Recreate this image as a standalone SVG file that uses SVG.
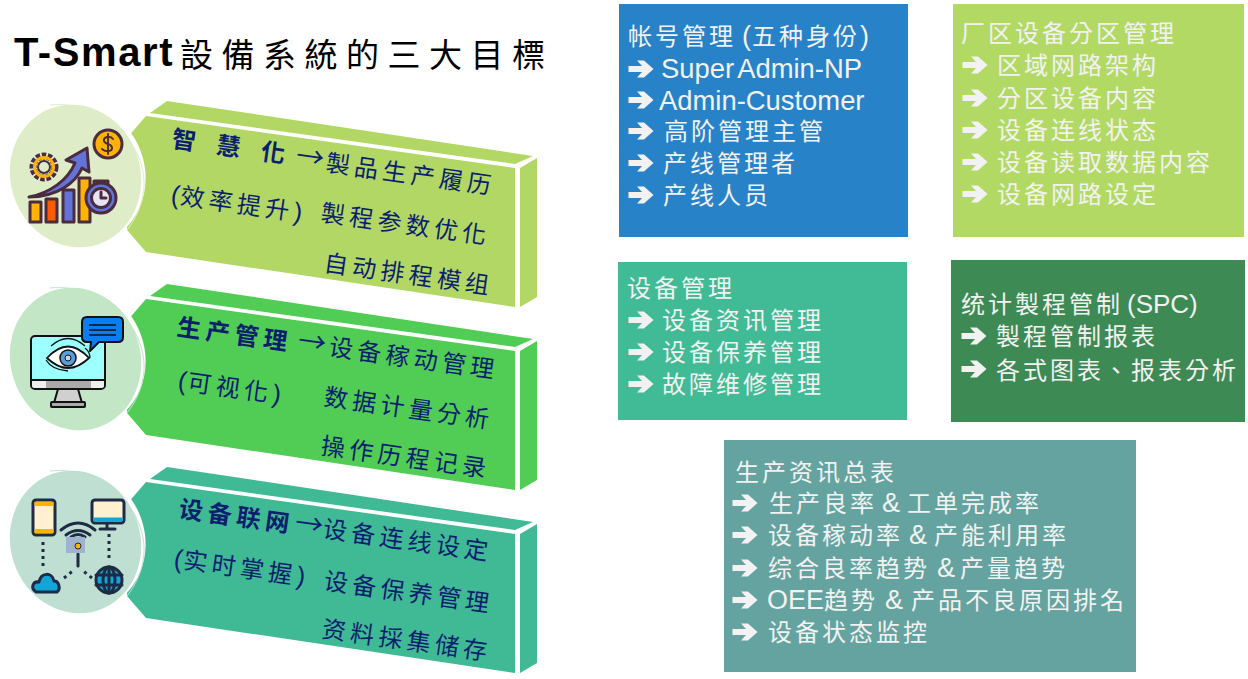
<svg xmlns="http://www.w3.org/2000/svg" xmlns:xlink="http://www.w3.org/1999/xlink" width="1248" height="679" viewBox="0 0 1248 679">
<style>
text{font-family:"Noto Sans CJK TC","Noto Sans CJK SC",sans-serif}
.w{fill:#f2f2f2;font-size:24px;letter-spacing:3px}
.l{font-family:"Liberation Sans","Noto Sans CJK TC",sans-serif;fill:#f2f2f2;font-size:27.4px}
.a{font-family:"Liberation Sans",sans-serif;font-size:27px;letter-spacing:0}
.d{fill:#0b1f6e;font-size:24px;letter-spacing:4.500px}
.p{font-family:"Liberation Sans",sans-serif;font-size:26px;letter-spacing:1px}
.b{font-weight:700}
.o{stroke:#4a2c3e;stroke-width:3;stroke-linejoin:round;stroke-linecap:round}
.n{stroke:#1f2a44;stroke-width:3;stroke-linejoin:round;stroke-linecap:round}
.k{stroke:#111;stroke-width:2;stroke-linejoin:round}
.f{fill:none}
</style>
<defs>
<path id="ar" d="M-12.5-3H1L-4-8.5H3L12.5 0 3 8.5H-4L1 3H-12.5Z" fill="#f2f2f2"/>
<g id="panel">
<polygon points="167,101 150,113 515,164 533,156"/>
<polygon points="146,116 515,168 515,307 146,252 127,230 127,138"/>
<polygon points="520,168 537,158 537,297 520,307"/>
</g>
<g id="bubble">
<ellipse cx="77" cy="175" rx="68" ry="73" fill="#fff" transform="rotate(-20 77 175)"/>
</g>
<path id="arc" d="M50 105C100 100 146 140 144 187 143 205 135 220 127 230" fill="none" stroke-width="1"/>
</defs>
<g id="title"><text x="14" y="66" style="font-family:'Liberation Sans',sans-serif;font-weight:700;font-size:40px;letter-spacing:1.600px;fill:#000">T-Smart</text><text x="180" y="67" style="font-size:33px;letter-spacing:8.500px;fill:#000">設備系統的三大目標</text></g>

<g id="node-smart">
<use xlink:href="#panel" fill="#b3d765"/><use xlink:href="#bubble"/><use xlink:href="#arc" stroke="#deedc8"/>
<ellipse cx="75.500" cy="176" rx="65" ry="72" fill="#deedc8" transform="rotate(-18 75.500 176)"/>
<g>
<rect x="30" y="202" width="11" height="20" fill="#ffb300" class="o"/><rect x="46" y="199" width="11" height="23" fill="#ff5a00" class="o"/><rect x="63" y="190" width="11" height="32" fill="#6373d8" class="o"/><rect x="79" y="178" width="11" height="44" fill="#ffb300" class="o"/>
<path d="M29 197C50 193 68 180 75 163L66 160 87 148 89 172 82 168C76 182 58 197 29 197Z" fill="#6373d8" class="o"/>
<circle cx="44" cy="167" r="11" fill="none" stroke="#4a2c3e" stroke-width="7" stroke-dasharray="4 1.500"/><circle cx="44" cy="167" r="9.500" fill="none" stroke="#ffb300" stroke-width="3"/><circle cx="44" cy="167" r="6" fill="#deedc8" stroke="#4a2c3e" stroke-width="2"/>
<circle cx="108" cy="144" r="14" fill="#ffb300" class="o"/><path d="M113 139C110 135 103 137 104 141 105 145 112 143 112 148 112 152 105 152 102 149M108 134V154" class="o f" style="stroke-width:2"/>
<rect x="94" y="181" width="14" height="5" fill="#ffb300" class="o"/><circle cx="101" cy="198" r="15" fill="#6373d8" class="o"/><circle cx="101" cy="198" r="9.500" fill="#e8e4f4" class="o"/><path d="M101 192V198H106" class="o f"/>
</g>
<text class="d b" style="letter-spacing:21px" transform="translate(171,147) rotate(8)">智慧化</text>
<text class="d" style="font-size:28px" transform="translate(295,165) rotate(8)">→</text>
<text class="d" transform="translate(325,171) rotate(8)">製品生产履历</text>
<text class="d" transform="translate(170,203) rotate(8)"><tspan class="p">(</tspan>效率提升<tspan class="p">)</tspan></text>
<text class="d" transform="translate(320,221) rotate(8)">製程参数优化</text>
<text class="d" transform="translate(323,271) rotate(8)">自动排程模组</text>
</g>

<g id="node-manage">
<use xlink:href="#panel" y="183" fill="#51cd55"/><use xlink:href="#bubble" y="183"/><use xlink:href="#arc" y="183" stroke="#c2e6c6"/>
<ellipse cx="75.500" cy="359" rx="65" ry="72" fill="#c2e6c6" transform="rotate(-18 75.500 359)"/>
<g>
<path d="M58 389H78L82 403H54Z" fill="#d0d0d0" class="k"/><rect x="51" y="402" width="34" height="5" rx="1" fill="#aaa" class="k"/>
<rect x="31" y="336" width="74" height="53" rx="4" fill="#9effff" class="k"/>
<path d="M32 381H104V385Q104 388 101 388H35Q32 388 32 385Z" fill="#aaa"/><path d="M32 381H46V388H35Q32 388 32 385ZM91 381H104V385Q104 388 101 388H91Z" fill="#eee"/><path d="M32 380H104" stroke="#111" stroke-width="2"/>
<path d="M47 358Q68 335 89 358 68 378 47 358Z" fill="#fff" stroke="#111" stroke-width="1.800"/><circle cx="68" cy="358" r="8" fill="#5a9ed8" stroke="#111" stroke-width="1.500"/><circle cx="68" cy="358" r="3" fill="#bcd8f0" stroke="#111"/>
<path d="M51 346Q68 331 85 346M85 348Q90 352 90 358M46 360Q52 370 68 371" fill="none" stroke="#111" stroke-width="1.300"/>
<path d="M87 317H118Q123 317 123 322V337Q123 342 118 342H99L90 351 91 342H87Q82 342 82 337V322Q82 317 87 317Z" fill="#0a7df0" class="k"/>
<path d="M89 325H116M89 330H116M89 335H116" stroke="#111" stroke-width="1.500"/>
</g>
<text class="d b" style="letter-spacing:5px" transform="translate(176,335) rotate(8)">生产管理</text>
<text class="d" style="font-size:28px" transform="translate(297,350) rotate(8)">→</text>
<text class="d" transform="translate(328,355) rotate(8)">设备稼动管理</text>
<text class="d" transform="translate(177,389) rotate(8)"><tspan class="p">(</tspan>可视化<tspan class="p">)</tspan></text>
<text class="d" transform="translate(323,405) rotate(8)">数据计量分析</text>
<text class="d" transform="translate(320,454) rotate(8)">操作历程记录</text>
</g>

<g id="node-network">
<use xlink:href="#panel" y="366" fill="#40b995"/><use xlink:href="#bubble" y="366"/><use xlink:href="#arc" y="366" stroke="#bfdfd3"/>
<ellipse cx="75.500" cy="542" rx="65" ry="72" fill="#bfdfd3" transform="rotate(-18 75.500 542)"/>
<g>
<rect x="33" y="500" width="22" height="35" rx="3" fill="#fff0d0" class="n"/><path d="M34.500 504H53.500M34.500 531H53.500" stroke="#ffb300" stroke-width="4"/>
<rect x="92" y="500" width="32" height="23" rx="3" fill="#fff0d0" class="n"/><path d="M93.500 519.500H122.500" stroke="#12a5d8" stroke-width="4"/><path d="M107 524V529M100 529H115" class="n f"/>
<path d="M43 542V570M109 534V562" fill="none" stroke="#1f2a44" stroke-width="3" stroke-dasharray="3 4"/>
<path d="M78 554V566" class="n f"/><path d="M64 578L74 570M92 578L82 570" fill="none" stroke="#1f2a44" stroke-width="3" stroke-dasharray="3 4"/>
<path d="M61 530Q78 516 95 530M66 535Q78 526 90 535" class="n f"/><path d="M71 537Q78 532 85 537" class="n f"/><rect x="66" y="537" width="19" height="16" fill="#9fb3cf"/><circle cx="78" cy="546" r="3" fill="#ffb300" stroke="#1f2a44"/>
<path d="M36 592C30 588 33 581 39 582 41 572 52 572 54 581 59 581 61 589 57 592Z" fill="#12a5d8" class="n"/>
<circle cx="109" cy="580" r="13" fill="#12a5d8" class="n"/><path d="M96 575H122M96 585H122M109 567V593" class="n f"/><ellipse cx="109" cy="580" rx="6" ry="13" class="n f"/>
</g>
<text class="d b" style="letter-spacing:5px" transform="translate(178,517) rotate(8)">设备联网</text>
<text class="d" style="font-size:28px" transform="translate(294,532) rotate(8)">→</text>
<text class="d" transform="translate(322,537) rotate(8)">设备连线设定</text>
<text class="d" transform="translate(173,567) rotate(8)"><tspan class="p">(</tspan>实时掌握<tspan class="p">)</tspan></text>
<text class="d" transform="translate(323,589) rotate(8)">设备保养管理</text>
<text class="d" transform="translate(321,637) rotate(8)">资料採集储存</text>
</g>

<g id="node-account">
<rect x="619" y="4" width="289" height="233" fill="#2882c8"/>
<text class="w" x="628" y="45">帐号管理<tspan class="a" x="742">(</tspan><tspan x="752">五种身份</tspan><tspan class="a" x="860">)</tspan></text>
<use xlink:href="#ar" x="641" y="69"/><text class="l" x="661" y="78" style="word-spacing:-3px">Super Admin-NP</text>
<use xlink:href="#ar" x="641" y="100"/><text class="l" x="659" y="110">Admin-Customer</text>
<use xlink:href="#ar" x="641" y="131"/><text class="w" x="664" y="140">高阶管理主管</text>
<use xlink:href="#ar" x="641" y="163"/><text class="w" x="663" y="172">产线管理者</text>
<use xlink:href="#ar" x="641" y="195"/><text class="w" x="663" y="204">产线人员</text>
</g>

<g id="node-zone">
<rect x="953" y="4" width="291" height="233" fill="#b3d965"/>
<text class="w" x="961" y="42">厂区设备分区管理</text>
<use xlink:href="#ar" x="975" y="65"/><text class="w" x="997" y="74">区域网路架构</text>
<use xlink:href="#ar" x="975" y="98"/><text class="w" x="997" y="107">分区设备内容</text>
<use xlink:href="#ar" x="975" y="130"/><text class="w" x="997" y="139">设备连线状态</text>
<use xlink:href="#ar" x="975" y="162"/><text class="w" x="997" y="171">设备读取数据内容</text>
<use xlink:href="#ar" x="975" y="194"/><text class="w" x="997" y="203">设备网路设定</text>
</g>

<g id="node-device">
<rect x="618" y="262" width="289" height="158" fill="#40bb95"/>
<text class="w" x="627" y="297">设备管理</text>
<use xlink:href="#ar" x="641" y="320"/><text class="w" x="662" y="329">设备资讯管理</text>
<use xlink:href="#ar" x="641" y="352"/><text class="w" x="662" y="361">设备保养管理</text>
<use xlink:href="#ar" x="641" y="384"/><text class="w" x="662" y="393">故障维修管理</text>
</g>

<g id="node-spc">
<rect x="951" y="260" width="294" height="162" fill="#3e8a54"/>
<text class="w" x="961" y="313">统计製程管制<tspan style="font-family:'Liberation Sans',sans-serif;font-size:26px;letter-spacing:0" x="1127">(SPC)</tspan></text>
<use xlink:href="#ar" x="974" y="336"/><text class="w" x="996" y="345">製程管制报表</text>
<use xlink:href="#ar" x="974" y="369"/><text class="w" x="996" y="379">各式图表、报表分析</text>
</g>

<g id="node-production">
<rect x="724" y="440" width="412" height="232" fill="#64a39f"/>
<text class="w" x="735" y="481">生产资讯总表</text>
<use xlink:href="#ar" x="745" y="503"/><text class="w" x="769" y="512">生产良率<tspan class="a" x="882">&amp;</tspan><tspan x="907">工单完成率</tspan></text>
<use xlink:href="#ar" x="745" y="535"/><text class="w" x="768" y="544">设备稼动率<tspan class="a" x="909">&amp;</tspan><tspan x="934">产能利用率</tspan></text>
<use xlink:href="#ar" x="745" y="568"/><text class="w" x="768" y="577">综合良率趋势<tspan class="a" x="937">&amp;</tspan><tspan x="960">产量趋势</tspan></text>
<use xlink:href="#ar" x="745" y="600"/><text class="w" x="767" y="609"><tspan class="a">OEE</tspan><tspan x="824">趋势</tspan><tspan class="a" x="885">&amp;</tspan><tspan x="911">产品不良原因排名</tspan></text>
<use xlink:href="#ar" x="745" y="632"/><text class="w" x="768" y="641">设备状态监控</text>
</g>
</svg>
